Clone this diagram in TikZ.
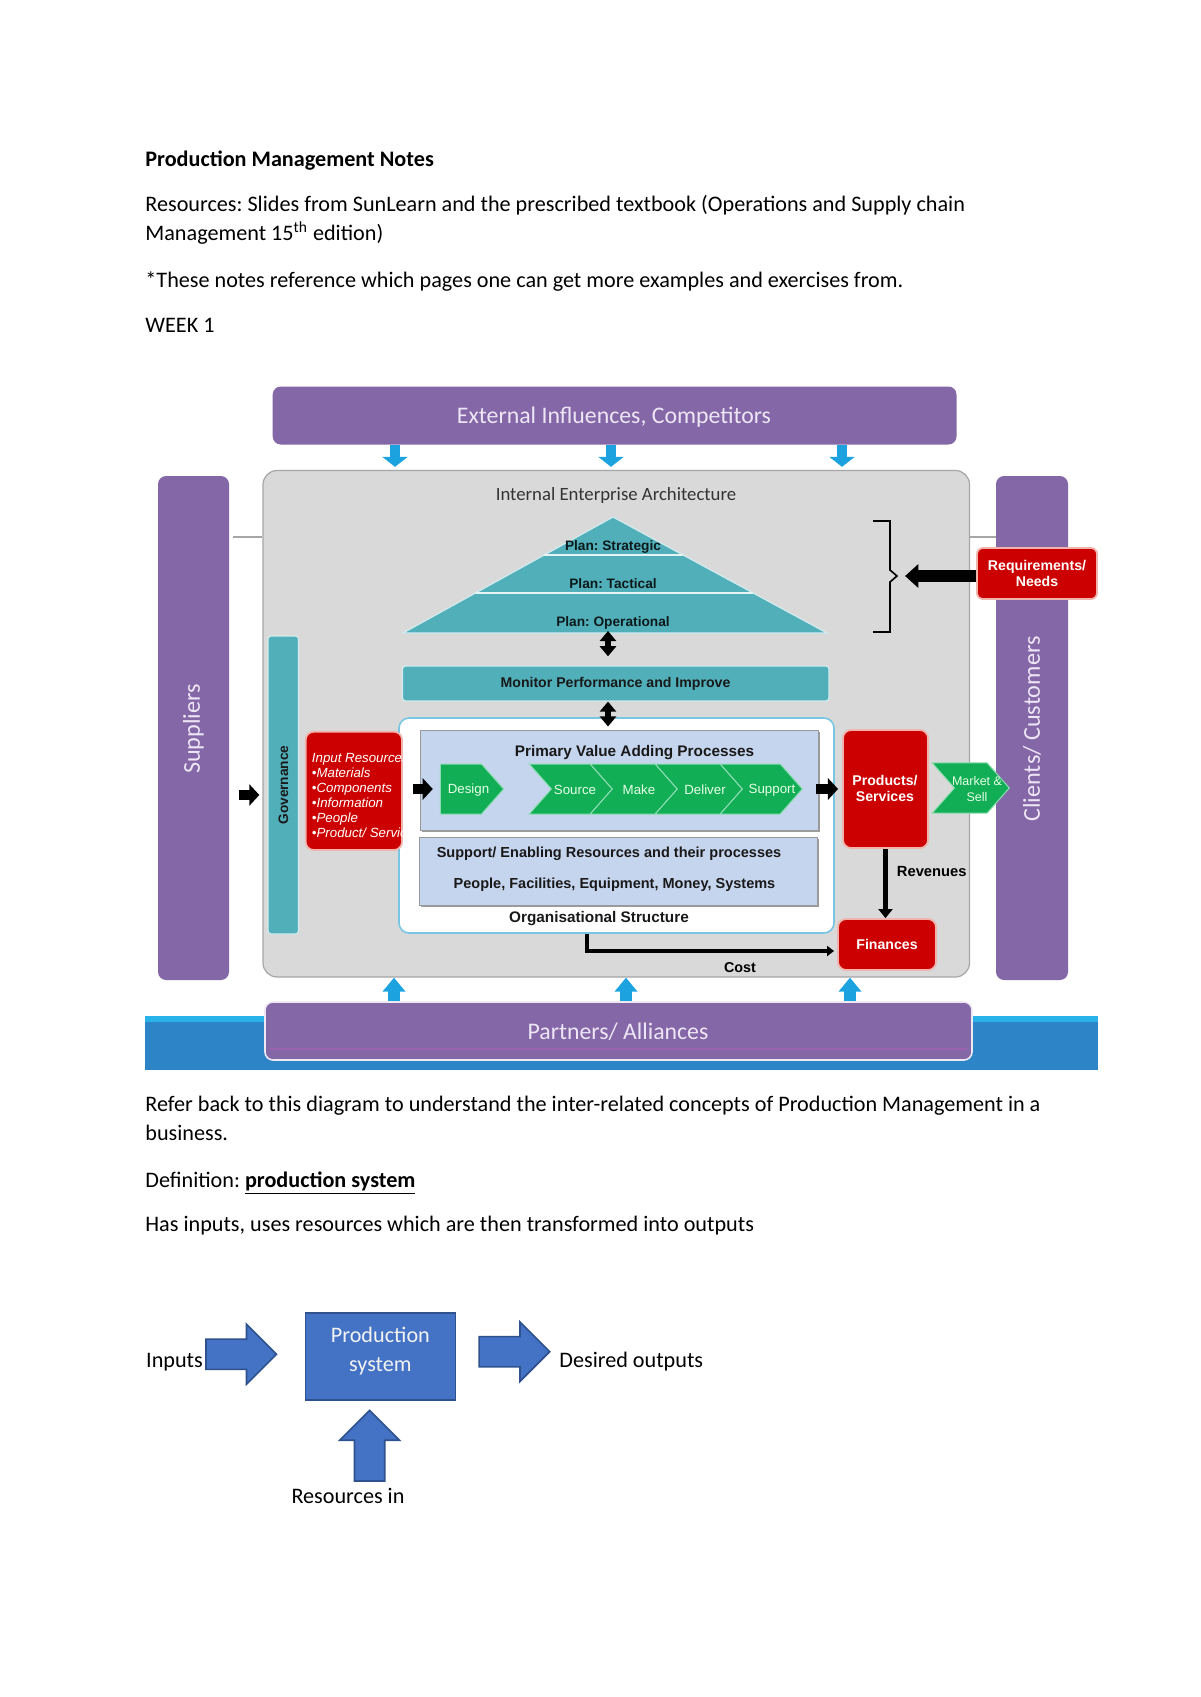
\documentclass[tikz,border=0pt]{standalone}
\usepackage{fontspec}
\setmainfont{Carlito}
\newfontfamily\arialf{Liberation Sans}
\frenchspacing
\usetikzlibrary{positioning,fit,calc,arrows.meta,shapes.symbols,shapes.arrows,shadows}

\definecolor{purp}{HTML}{8467A6}
\definecolor{lav}{HTML}{EEE6F6}
\definecolor{archgray}{HTML}{D9D9D9}
\definecolor{archline}{HTML}{A6A6A6}
\definecolor{tealc}{HTML}{51AFBA}
\definecolor{redc}{HTML}{CC0000}
\definecolor{redline}{HTML}{F0B4AC}
\definecolor{greenc}{HTML}{12AE56}
\definecolor{chevline}{HTML}{8BDDB0}
\definecolor{lblue}{HTML}{C6D5EE}
\definecolor{orgline}{HTML}{78C6E3}
\definecolor{cyanc}{HTML}{1DA2E0}
\definecolor{bandc}{HTML}{2D84C6}
\definecolor{bandtop}{HTML}{28B2E8}
\definecolor{stripe}{HTML}{9A62AE}
\definecolor{psblue}{HTML}{4472C4}
\definecolor{psline}{HTML}{2F528F}

\begin{document}
\begin{tikzpicture}[x=0.496pt,y=-0.496pt,
  body/.style={anchor=base west,font=\fontsize{11}{13.4}\selectfont},
  bar/.style={fill=purp,rounded corners=4pt},
  bartxt/.style={text=lav,font=\fontsize{11.8}{14}\selectfont},
  arch/.style={fill=archgray,draw=archline,line width=0.6pt,rounded corners=7pt},
  tealbox/.style={fill=tealc,draw=white!75!tealc,line width=0.6pt,rounded corners=1.5pt},
  redbox/.style={fill=redc,draw=redline,line width=0.9pt,rounded corners=4pt},
  redtxt/.style={text=white,align=center,font=\arialf\bfseries\fontsize{7}{8.2}\selectfont},
  bluebox/.style={fill=lblue,draw=black!40,line width=0.5pt,drop shadow={shadow xshift=1pt,shadow yshift=-1pt,fill=black!55,opacity=0.7}},
  lbl/.style={text=black!90,font=\arialf\bfseries\fontsize{7.2}{8.6}\selectfont},
  lblbig/.style={text=black!90,font=\arialf\bfseries\fontsize{7.6}{9}\selectfont},
  plan/.style={text=black!85!tealc,font=\arialf\bfseries\fontsize{6.8}{8}\selectfont},
  chev/.style={signal,signal to=east,signal pointer angle=97,anchor=east,fill=greenc,draw=chevline,line width=0.5pt,minimum height=24.8pt},
  notch/.style={signal from=west},
  chevtxt/.style={align=center,text=white!90!green,font=\arialf\fontsize{6.6}{7.6}\selectfont},
  blkarr/.style={line width=5pt,-{Triangle[length=5pt,width=10.5pt]}},
  reqarr/.style={line width=6pt,-{Triangle[length=6.6pt,width=11.5pt]}},
  revarr/.style={line width=2.5pt,-{Triangle[length=4.5pt,width=7pt]}},
  costarr/.style={line width=1.5pt,-{Triangle[length=3.5pt,width=5pt]}},
  dblarr/.style={line width=3pt,{Triangle[length=5pt,width=8pt]}-{Triangle[length=5pt,width=8pt]}},
  cyarr/.style={cyanc,line width=5pt,-{Triangle[length=5pt,width=12.4pt]}},
  cyarrup/.style={cyanc,line width=6pt,-{Triangle[length=7pt,width=11pt]}},
  thinln/.style={archline,line width=0.6pt},
  bigarr/.style={single arrow,single arrow tip angle=90,anchor=tip,fill=psblue,draw=psline,line width=0.8pt,minimum height=35pt,inner ysep=7.1pt}
]
\tikzstyle{every node}+=[inner sep=0pt]
\useasboundingbox (0,0) rectangle (1200,1697);
\fill[white] (0,0) rectangle (1200,1697);

% notes text
\node[body] (title) at (145,166) {\textbf{Production Management Notes}};
\node[body] (res1) at (145,211.5) {Resources: Slides from SunLearn and the prescribed textbook (Operations and Supply chain};
\node[body] (res2) at (145,240.5) {Management 15\textsuperscript{th} edition)};
\node[body] (notes) at (145,287) {*These notes reference which pages one can get more examples and exercises from.};
\node[body] (week) at (145,332.5) {WEEK 1};

% bottom band
\fill[bandc] (145,1016) rectangle (1098,1070);
\fill[bandtop] (145,1016) rectangle (1098,1022);

% outer bars
\node[bar,fit={(272.7,386.5)(956.5,444.5)}] (ext) {};
\node[bartxt] (exttxt) at (614,417.5) {External Influences, Competitors};
\node[bar,draw=white!85!purp,line width=0.8pt,fit={(265,1002)(972,1060)}] (part) {};
\draw[stripe,line width=1pt] ($(part.south west)+(6,-12)$) -- ($(part.south east)+(-6,-12)$);
\node[bartxt] (parttxt) at (618,1031.5) {Partners/ Alliances};
\node[bar,fit={(158,476)(229,980)}] (supl) {};
\node[bartxt,rotate=90,font=\fontsize{12}{14}\selectfont] (supltxt) at (193.5,729) {Suppliers};
\node[bar,fit={(996,476)(1068,980)}] (cli) {};
\node[bartxt,rotate=90,font=\fontsize{12}{14}\selectfont] (clitxt) at (1032,729) {Clients/ Customers};

% internal enterprise
\node[arch,fit={(263,470.5)(969.5,977)}] (iea) {};
\node[text=black!80,font=\fontsize{9.3}{11}\selectfont] (ieatxt) at (616,495.5) {Internal Enterprise Architecture};
\coordinate (ly) at (0,537);
\draw[thinln,shorten <=2pt] (supl.east |- ly) -- (iea.west |- ly);
\draw[thinln] (iea.east |- ly) -- (cli.west |- ly);

% influence arrows
\draw[cyarr,shorten >=1.5pt] (ext.south -| 395,0) -- (iea.north -| 395,0);
\draw[cyarr,shorten >=1.5pt] (ext.south -| 611,0) -- (iea.north -| 611,0);
\draw[cyarr,shorten >=1.5pt] (ext.south -| 842,0) -- (iea.north -| 842,0);
\draw[cyarrup] (part.north -| 394,0) -- (iea.south -| 394,0);
\draw[cyarrup] (part.north -| 626,0) -- (iea.south -| 626,0);
\draw[cyarrup] (part.north -| 850,0) -- (iea.south -| 850,0);

% governance
\node[tealbox,fit={(268,636)(298.5,934)}] (gov) {};
\node[rotate=90,text=black!90,font=\arialf\bfseries\fontsize{6.8}{8}\selectfont] (govtxt) at (283.5,785) {Governance};

% planning pyramid
\coordinate (apex) at (613,517);
\coordinate (pl) at (403,633);
\coordinate (pr) at (827,633);
\filldraw[fill=tealc,draw=white!75!tealc,line width=0.6pt] (apex) -- (pr) -- (pl) -- cycle;
\draw[white!85!tealc,line width=1.2pt] ($(apex)!0.3276!(pl)$) -- ($(apex)!0.3276!(pr)$);
\draw[white!85!tealc,line width=1.2pt] ($(apex)!0.655!(pl)$) -- ($(apex)!0.655!(pr)$);
\node[plan] (strat) at (613,546.5) {Plan: Strategic};
\node[plan] (tact) at (613,583.5) {Plan: Tactical};
\node[plan] (oper) at (613,623) {Plan: Operational};

% bracket and requirements
\coordinate (brk) at (897,576);
\draw[line width=0.8pt] (873,521) -- (890,521) -- (890,570) -- (brk) -- (890,582) -- (890,632) -- (873,632);
\node[redbox,rounded corners=3pt,fit={(977,548)(1097,599)}] (req) {};
\node[redtxt] (reqtxt) at (1037,573.5) {Requirements/\\Needs};
\draw[reqarr,shorten >=4pt] (req.west |- brk) -- (brk);

% monitor
\node[tealbox,fit={(402.5,666)(829,701)}] (mon) {};
\node[lbl,font=\arialf\bfseries\fontsize{7}{8.4}\selectfont] (montxt) at (615.5,684) {Monitor Performance and Improve};
\coordinate (pb) at (608,631);
\draw[dblarr,shorten >=4.5pt] (pb) -- (pb |- mon.north);

% organisational structure
\node[fill=white,draw=orgline,line width=0.8pt,rounded corners=5pt,fit={(399,718)(834,933)}] (org) {};
\node[bluebox,fit={(420,730)(818,830)}] (pva) {};
\node[lblbig] (pvatxt) at (634.5,752.5) {Primary Value Adding Processes};
\node[bluebox,fit={(419,837)(817,905)}] (sera) {};
\node[lbl] (seratxt) at (609,853.5) {Support/ Enabling Resources and their processes};
\node[lbl] (ppltxt) at (614.5,884.5) {People, Facilities, Equipment, Money, Systems};
\node[lblbig] (orgtxt) at (599,919) {Organisational Structure};
\draw[dblarr,shorten >=1.5pt] (mon.south -| pb) -- (pva.north -| pb);

% value chain
\node[chev,minimum width=31.4pt] (dsg) at (504.3,789) {};
\node[chev,notch,minimum width=41.2pt] (src) at (613,789) {};
\node[chev,notch,minimum width=43.2pt] (mak) at (678,789) {};
\node[chev,notch,minimum width=43.2pt] (dlv) at (743,789) {};
\node[chev,notch,minimum width=40.7pt] (spt) at (803,789) {};
\node[chevtxt] (dsgtxt) at (468.5,790) {Design};
\node[chevtxt] (srctxt) at (575,790) {Source};
\node[chevtxt] (maktxt) at (639,790) {Make};
\node[chevtxt] (dlvtxt) at (705,790) {Deliver};
\node[chevtxt] (spttxt) at (772,790) {Support};

% input resources
\node[redbox,fit={(305.7,731.7)(402,850)}] (inres) {};
\begin{scope}
\clip[rounded corners=4pt] (inres.south west) rectangle (inres.north east);
\node[anchor=north west,align=left,text=white,font=\arialf\itshape\fontsize{6.6}{7.44}\selectfont] (inlist) at (311.5,752.5) {Input Resources\\•Materials\\•Components\\•Information\\•People\\•Product/ Services};
\end{scope}

% outputs
\node[redbox,fit={(843,730)(928,848)}] (prod) {};
\node[redtxt] (prodtxt) at (885,788.5) {Products/\\Services};
\node[redbox,fit={(838,919)(936,970)}] (fin) {};
\node[redtxt] (fintxt) at (887,944.5) {Finances};
\node[chev,notch,minimum width=38.3pt,minimum height=25pt] (mks) at (1010,788) {};
\node[chevtxt,font=\arialf\fontsize{6.2}{7.6}\selectfont] (mkstxt) at (977,789) {Market \&\\Sell};

% flows
\coordinate (ay) at (0,795);
\draw[blkarr,shorten <=5pt,shorten >=4pt] (supl.east |- ay) -- (gov.west |- ay);
\draw[blkarr,shorten <=5pt,shorten >=3.5pt] (inres.east |- dsg.west) -- (dsg.west);
\draw[blkarr,shorten <=6.5pt,shorten >=2pt] (spt.east) -- (prod.west |- spt.east);
\draw[revarr] (prod.south) -- (prod.south |- fin.north);
\node[text=black,font=\arialf\bfseries\fontsize{7.3}{8.6}\selectfont] (revtxt) at (931.7,871) {Revenues};
\coordinate (cy) at (587,951);
\draw[costarr,shorten >=1.5pt] (org.south -| cy) |- (fin.west |- cy);
\node[text=black,font=\arialf\bfseries\fontsize{7.1}{8.6}\selectfont] (costtxt) at (740,968) {Cost};

% text after diagram
\node[body] (refer) at (145,1111.5) {Refer back to this diagram to understand the inter-related concepts of Production Management in a};
\node[body] (busn) at (145,1140.5) {business.};
\node[body] (defn) at (145,1187) {Definition: \underline{\textbf{production system}}};
\node[body] (hasin) at (145,1231) {Has inputs, uses resources which are then transformed into outputs};

% production system
\node[fill=psblue,draw=psline,line width=0.8pt,fit={(305.4,1312.7)(455.4,1400)}] (ps) {};
\node[align=center,text=white!95!black,font=\fontsize{11}{14.4}\selectfont] (pstxt) at (ps.center |- 0,1351) {Production\\system};
\node[bigarr,single arrow head extend=7.4pt] (inarr) at (277.7,1354.2) {};
\node[bigarr,single arrow head extend=7.2pt] (outarr) at (550.8,1351.7) {};
\node[bigarr,rotate=90,single arrow head extend=7.3pt] (resarr) at (369.6,1409.3) {};
\node[body] (inputs) at (145.8,1367) {Inputs};
\node[body] (outputs) at (559,1367) {Desired outputs};
\node[body,anchor=base] (resin) at (348,1503) {Resources in};
\end{tikzpicture}
\end{document}
